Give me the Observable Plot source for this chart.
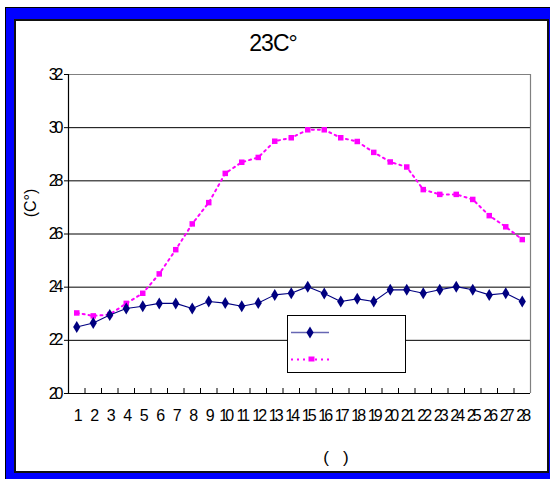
<!DOCTYPE html>
<html><head><meta charset="utf-8">
<script src="https://cdn.jsdelivr.net/npm/d3@7"></script>
<script src="https://cdn.jsdelivr.net/npm/@observablehq/plot@0.6"></script>
<style>
html,body{margin:0;padding:0}
body{width:550px;height:479px;overflow:hidden;background:#fff;position:relative;font-family:"Liberation Sans",Arial,sans-serif;color:#000}
#outer{position:absolute;left:5px;top:7px;width:600px;height:500px;background:#0000ff;border:1px solid #000}
#inner{position:absolute;left:14px;top:19px;width:531px;height:450px;background:#fff;border:2px solid #111}
#chart{position:absolute;left:0;top:0}
#title{position:absolute;left:0;width:546px;top:32px;text-align:center;font-size:23px;line-height:1;letter-spacing:-1px}
#ylab{position:absolute;left:31px;top:203px;transform:translate(-50%,-50%) rotate(-90deg);font-size:16px;white-space:nowrap}
#xlab{position:absolute;left:336px;top:458px;transform:translate(-50%,-50%);font-size:17px;white-space:pre}
#legend{position:absolute;left:287px;top:315px;width:117px;height:56px;border:1px solid #000;background:#fff}
#chart svg text{letter-spacing:-3px}
</style>
</head><body>
<div id="outer"></div>
<div id="inner"></div>
<div id="chart"></div>
<div id="title">23C°</div>
<div id="ylab">(C°)</div>
<div id="xlab">(   )</div>
<div id="legend"></div>
<script>
const days = [1,2,3,4,5,6,7,8,9,10,11,12,13,14,15,16,17,18,19,20,21,22,23,24,25,26,27,28];
const seriesA = [22.5,22.65,22.95,23.2,23.28,23.39,23.39,23.2,23.46,23.4,23.28,23.4,23.71,23.77,24.02,23.76,23.46,23.56,23.46,23.9,23.9,23.77,23.9,24.02,23.9,23.71,23.77,23.46];
const seriesB = [23.03,22.92,22.97,23.39,23.77,24.5,25.41,26.38,27.18,28.28,28.7,28.88,29.49,29.62,29.92,29.92,29.62,29.48,29.07,28.71,28.52,27.67,27.49,27.49,27.3,26.69,26.27,25.79];
const yTicks = [20,22,24,26,28,30,32];
const gridValues = [22,24,26,28,30];
const bandEdges = [0.5,1.5,2.5,3.5,4.5,5.5,6.5,7.5,8.5,9.5,10.5,11.5,12.5,13.5,14.5,15.5,16.5,17.5,18.5,19.5,20.5,21.5,22.5,23.5,24.5,25.5,26.5,27.5,28.5];

const navy = "#000080", magenta = "#ff00ff";
const tallDiamond = {draw(ctx){ const w = 3.6, h = 6; ctx.moveTo(0,-h); ctx.lineTo(w,0); ctx.lineTo(0,h); ctx.lineTo(-w,0); ctx.closePath(); }};

const rows = days.map((d,i) => ({day: d, a: seriesA[i], b: seriesB[i]}));
const inner = bandEdges.slice(1, -1);

const chart = Plot.plot({
  width: 550, height: 479,
  marginLeft: 68, marginRight: 20, marginTop: 74, marginBottom: 86,
  style: "background:transparent;font-family:'Liberation Sans',Arial,sans-serif;font-size:15px;color:#000;overflow:visible;",
  x: {domain: [bandEdges[0], bandEdges[bandEdges.length-1]], axis: null},
  y: {domain: [yTicks[0], yTicks[yTicks.length-1]], axis: null},
  marks: [
    Plot.ruleY(gridValues, {stroke: "#000", strokeWidth: 1}),
    Plot.ruleY([yTicks[yTicks.length-1]], {stroke: "#808080", strokeWidth: 1.2}),
    Plot.ruleX([bandEdges[bandEdges.length-1]], {stroke: "#808080", strokeWidth: 1.2}),
    Plot.ruleX([bandEdges[0]], {stroke: "#000", strokeWidth: 1.2}),
    Plot.ruleY([yTicks[0]], {stroke: "#000", strokeWidth: 1.2}),
    Plot.ruleX(inner, {x: d => d, y1: yTicks[0], y2: yTicks[0], insetBottom: 5, stroke: "#000"}),
    Plot.axisY({ticks: yTicks, tickSize: 4, tickPadding: 4, tickFormat: d => String(d), label: null, stroke: "#000", fontSize: 16}),
    Plot.axisX({ticks: days, tickSize: 0, tickPadding: 16, tickFormat: d => String(d), label: null, fontSize: 16}),
    Plot.line(rows, {x: "day", y: "b", stroke: magenta, strokeWidth: 2, strokeDasharray: "2,4"}),
    Plot.dot(rows, {x: "day", y: "b", symbol: "square", r: 3.1, fill: magenta, stroke: "none"}),
    Plot.line(rows, {x: "day", y: "a", stroke: navy, strokeWidth: 1.1}),
    Plot.dot(rows, {x: "day", y: "a", symbol: tallDiamond, fill: navy, stroke: "none"})
  ]
});
document.getElementById("chart").appendChild(chart);

// legend (series names not legible in the reference)
const lg = d3.select("#legend").append("svg").attr("width", 117).attr("height", 56).style("display","block");
lg.append("line").attr("x1", 3).attr("x2", 41).attr("y1", 16.5).attr("y2", 16.5).attr("stroke", navy).attr("stroke-width", 1.5).attr("stroke-opacity", 0.6);
lg.append("path").attr("d", "M22,10.5L25.6,16.5L22,22.5L18.4,16.5Z").attr("fill", navy);
lg.append("line").attr("x1", 3).attr("x2", 41).attr("y1", 43.5).attr("y2", 43.5).attr("stroke", magenta).attr("stroke-width", 2).attr("stroke-dasharray", "2,4");
lg.append("rect").attr("x", 20.5).attr("y", 40.5).attr("width", 6).attr("height", 5).attr("fill", magenta);
</script>
</body></html>
